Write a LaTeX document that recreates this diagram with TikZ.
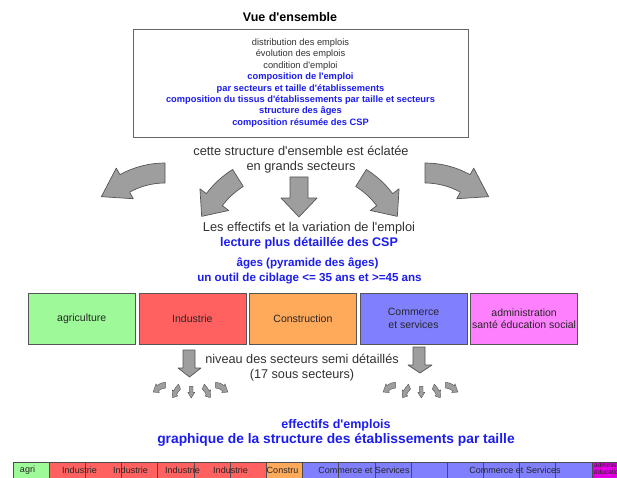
\documentclass[tikz,border=0pt]{standalone}
\usepackage{fontspec}
\setmainfont{Liberation Sans}[Ligatures=TeXOff]
\usetikzlibrary{positioning}

\definecolor{txtblue}{RGB}{28,28,240}
\definecolor{txtgray}{RGB}{50,50,50}
\definecolor{agrigreen}{RGB}{158,250,152}
\definecolor{indred}{RGB}{255,96,96}
\definecolor{constrorange}{RGB}{255,170,90}
\definecolor{commblue}{RGB}{128,128,255}
\definecolor{adminpink}{RGB}{255,128,255}
\definecolor{adminmagenta}{RGB}{226,0,226}
\definecolor{arrowgray}{RGB}{158,158,158}
\definecolor{arrowline}{RGB}{85,85,85}

\tikzset{
  blockarrow/.style={fill=arrowgray, draw=arrowline, line width=0.7pt, line join=round},
  sector/.style={draw=arrowline, line width=0.6pt, minimum width=107pt, minimum height=51pt,
    inner sep=0pt, align=center, text=black!85, font=\fontsize{10.5}{12.5}\selectfont},
  cell/.style={draw=black!70, line width=0.5pt, minimum width=36.2pt, minimum height=17pt,
    inner sep=0pt, outer sep=0pt},
  celltext/.style={font=\fontsize{9}{10}\selectfont, text=black!85, inner sep=0pt},
  fan/.pic={
    \begin{scope}[shift={(-132,-66)}]
      \filldraw[blockarrow] (90:93) arc[start angle=90,end angle=119,radius=93] -- (119:100.5)
        -- (137:87) -- (119:65.5) -- (119:73) arc[start angle=119,end angle=90,radius=73] -- cycle;
    \end{scope}
    \begin{scope}[shift={(-12.4,-62.6)}]
      \filldraw[blockarrow] (122:98) arc[start angle=122,end angle=143,radius=98] -- (143:106)
        -- (156.4:90.5) -- (143:70) -- (143:78) arc[start angle=143,end angle=122,radius=78] -- cycle;
    \end{scope}
    \filldraw[blockarrow] (-7,13) -- (11,13) -- (11,-8) -- (20,-8) -- (2,-27) -- (-16,-8) -- (-7,-8) -- cycle;
    \begin{scope}[shift={(17.4,-62.6)}]
      \filldraw[blockarrow] (58:98) arc[start angle=58,end angle=37,radius=98] -- (37:106)
        -- (23.6:90.5) -- (37:70) -- (37:78) arc[start angle=37,end angle=58,radius=78] -- cycle;
    \end{scope}
    \begin{scope}[shift={(128,-66)}]
      \filldraw[blockarrow] (90:93) arc[start angle=90,end angle=61,radius=93] -- (61:100.5)
        -- (43:87) -- (61:65.5) -- (61:73) arc[start angle=61,end angle=90,radius=73] -- cycle;
    \end{scope}
  }
}

\begin{document}
\begin{tikzpicture}[x=1pt,y=1pt]
            \useasboundingbox[fill=white] (0,0) rectangle (617,-478);

            \node[font=\fontsize{12.5}{14}\selectfont\bfseries] (title) at (290,-17) {Vue d'ensemble};
            \node[draw=black!60, line width=0.6pt, minimum width=335pt, minimum height=108pt,
              align=center, font=\fontsize{9.3}{11.43}\selectfont] (overview) at (300.5,-83)
              {\textcolor{txtgray}{distribution des emplois}\\
               \textcolor{txtgray}{évolution des emplois}\\
               \textcolor{txtgray}{condition d'emploi}\\
               \textcolor{txtblue}{\textbf{composition de l'emploi}}\\
               \textcolor{txtblue}{\textbf{par secteurs et taille d'établissements}}\\
               \textcolor{txtblue}{\textbf{composition du tissus d'établissements par taille et secteurs}}\\
               \textcolor{txtblue}{\textbf{structure des âges}}\\
               \textcolor{txtblue}{\textbf{composition résumée des CSP}}};

            \node[align=center, text=txtgray, font=\fontsize{12.8}{15}\selectfont] (split) at (301,-159.5)
              {cette structure d'ensemble est éclatée\\en grands secteurs};

            \pic at (297,-190) {fan};

            \node[text=txtgray, font=\fontsize{12.8}{15}\selectfont] (effectifs) at (309,-228) {Les effectifs et la variation de l'emploi};
            \node[text=txtblue, font=\fontsize{12.5}{15}\selectfont\bfseries] (csp) at (309,-243) {lecture plus détaillée des CSP};
            \node[text=txtblue, font=\fontsize{11.6}{14}\selectfont\bfseries] (ages) at (307.5,-263) {âges (pyramide des âges)};
            \node[text=txtblue, font=\fontsize{11.6}{14}\selectfont\bfseries] (ciblage) at (309.5,-279) {un outil de ciblage <= 35 ans et >=45 ans};

            \node[sector, fill=agrigreen] (agri) at (81.7,-318.5) {agriculture};
            \node[sector, fill=indred, right=3pt of agri] (indus) {Industrie};
            \node[sector, fill=constrorange, right=3pt of indus] (constr) {Construction};
            \node[sector, fill=commblue, right=3pt of constr] (comm) {Commerce\\et services};
            \node[sector, fill=adminpink, right=3pt of comm] (admin) {administration\\santé éducation social};

            \filldraw[blockarrow] (183,-350) -- (195,-350) -- (195,-368) -- (201,-368) -- (189.5,-377) -- (178,-368) -- (183,-368) -- cycle;
            \filldraw[blockarrow] (413,-347) -- (425,-347) -- (425,-365) -- (432,-365) -- (420,-373) -- (408,-365) -- (413,-365) -- cycle;

            \node[align=center, text=txtgray, font=\fontsize{12.7}{15}\selectfont] (niveau) at (302,-367.5)
              {niveau des secteurs semi détaillés\\(17 sous secteurs)};

            \pic[xscale=0.193, yscale=0.29, blockarrow/.append style={line width=0.4pt}] at (190.9,-390.1) {fan};
            \pic[xscale=0.193, yscale=0.29, blockarrow/.append style={line width=0.4pt}] at (420.9,-390.1) {fan};

            \node[text=txtblue, font=\fontsize{12.5}{15}\selectfont\bfseries] (emplois) at (336,-425) {effectifs d'emplois};
            \node[text=txtblue, font=\fontsize{13.8}{16}\selectfont\bfseries] (graphique) at (336,-440) {graphique de la structure des établissements par taille};

            \foreach \c [count=\i from 0] in {agrigreen,indred,indred,indred,indred,indred,indred,constrorange,
              commblue,commblue,commblue,commblue,commblue,commblue,commblue,commblue,adminmagenta}
              \node[cell, fill=\c] (cell\i) at ({31.1+36.18*\i},-470.5) {};

            \node[celltext] (lab-agri) at (27.5,-470) {agri};
            \node[celltext] (lab-ind1) at (79.5,-470) {Industrie};
            \node[celltext] (lab-ind2) at (130.5,-470) {Industrie};
            \node[celltext] (lab-ind3) at (182.5,-470) {Industrie};
            \node[celltext] (lab-ind4) at (230.5,-470) {Industrie};
            \node[celltext] (lab-constr) at (282.5,-470) {Constru};
            \node[celltext] (lab-comm1) at (364,-470) {Commerce et Services};
            \node[celltext] (lab-comm2) at (515,-470) {Commerce et Services};
            \node[celltext, anchor=west, align=left, font=\fontsize{6.5}{7}\selectfont] (lab-admin) at (594,-468.5) {administration\\éducation};
        \end{tikzpicture}
\end{document}
